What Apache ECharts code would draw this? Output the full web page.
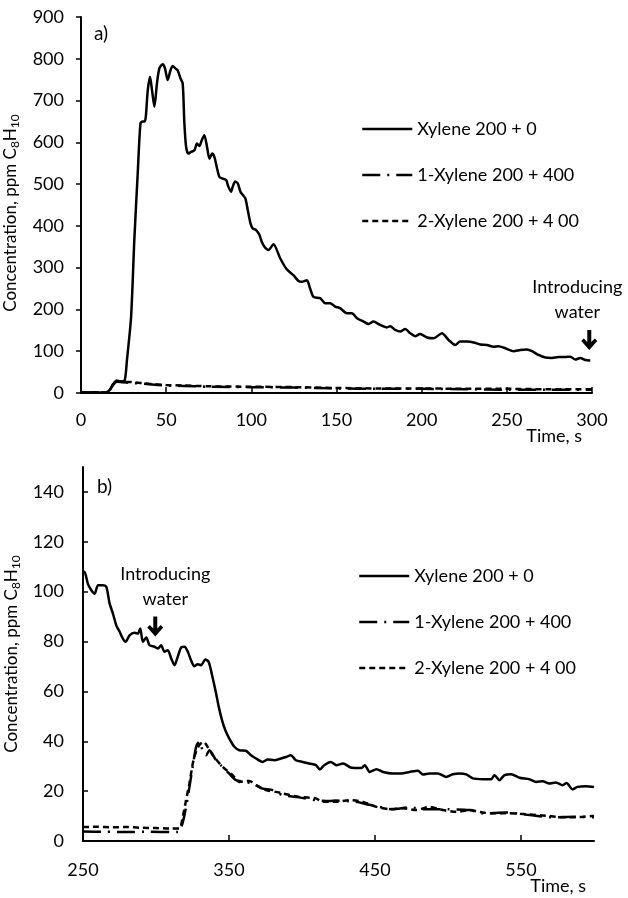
<!DOCTYPE html>
<html>
<head>
<meta charset="utf-8">
<script src="https://cdn.jsdelivr.net/npm/echarts@6.0.0/dist/echarts.min.js"></script>
<style>
  html, body { margin: 0; padding: 0; background: #fff; }
  #chart { width: 628px; height: 898px; }
</style>
</head>
<body>
<div id="chart"></div>
<script>
// names of the three runs
const seriesNames = ['Xylene 200 + 0', '1-Xylene 200 + 400', '2-Xylene 200 + 4 00']

// panel a) [time s, ppm]
const a_xylene0 = [
  [0, 1], [10, 1], [15, 2], [17, 8], [19, 22], [21, 30], [23, 28], [25.5, 29], [27, 80],
  [29.4, 182], [31.3, 366], [33.3, 526], [34.9, 645], [36.2, 650], [37.5, 650], [39.2, 725],
  [40.5, 757], [41.7, 725], [43.1, 685], [44.6, 741], [46, 777], [48, 787], [49.3, 777],
  [50.9, 749], [52.5, 772], [53.8, 783], [55.4, 777], [56.8, 772], [58.4, 753], [59.7, 741],
  [60.7, 645], [61.7, 589], [63, 573], [64.6, 577], [66.6, 581], [68.1, 597], [69.5, 591],
  [70.9, 605], [72.4, 617], [74, 589], [75.4, 561], [77, 573], [78.3, 565], [79.7, 541],
  [81.3, 517], [83.2, 513], [85.2, 510], [86.5, 494], [88.1, 482], [89.1, 494], [90.5, 506],
  [92, 502], [93.6, 482], [95, 474], [96.5, 466], [97.9, 438], [99.5, 406], [100.8, 394],
  [102.8, 390], [104.8, 378], [106.1, 362], [107.7, 350], [110, 342], [113, 356], [117, 322],
  [120.8, 296], [124.7, 282], [127.7, 268], [129.6, 266], [132.6, 270], [134.5, 250],
  [136.5, 230], [140.4, 227], [143.3, 215], [146.3, 215], [149.2, 207], [152.1, 203],
  [156.1, 191], [159, 191], [162, 179], [165.9, 171], [168.8, 165], [171.7, 171], [175.6, 163],
  [179.6, 157], [181.5, 160], [184.5, 151], [187.4, 147], [190.3, 153], [193.3, 143],
  [196.2, 136], [199.1, 141], [203.1, 133], [207, 131], [211.9, 143], [215.8, 127],
  [219.7, 115], [222.6, 123], [226.6, 123], [230.5, 121], [234.4, 116], [238.3, 115],
  [242.2, 111], [245.1, 112], [249.1, 107], [254, 100], [257.9, 103], [261.8, 104],
  [264.8, 100], [268.6, 91], [272.6, 85], [276.5, 84], [280.4, 86], [284.3, 86], [287.3, 87],
  [290.2, 80], [293.1, 84], [296.1, 79], [299, 78]
]
const a_xylene400_1 = [
  [0, 1], [15, 1], [17, 8], [19, 20], [21, 27], [24, 26], [30, 24], [40, 21], [50, 18],
  [60, 17], [75, 15], [100, 14], [125, 13], [150, 11], [175, 10], [200, 10], [225, 9],
  [250, 8], [275, 8], [300, 8]
]
const a_xylene400_2 = [
  [0, 1], [15, 1], [17, 8], [19, 22], [21, 28], [24, 27], [30, 26], [40, 22], [50, 19],
  [60, 18], [75, 16], [100, 15], [125, 14], [150, 12], [175, 11], [200, 11], [225, 10],
  [250, 10], [275, 9], [300, 9]
]

// panel b) [time s, ppm]
const b_xylene0 = [
  [250, 108], [251, 108], [253.4, 103], [255.7, 100.6], [258, 99.2], [260.3, 102.6],
  [263.7, 102.6], [266, 101.9], [268.2, 95.3], [270.5, 91.2], [272.8, 86.5], [275.1, 83.9],
  [277.3, 81.2], [279.2, 79.9], [281.9, 82.5], [285.3, 83.5], [287.6, 83.2], [289.2, 85.2],
  [291, 79.9], [293.3, 81.6], [295.6, 78.5], [299, 77.9], [301.3, 77.2], [303.5, 78.5],
  [305.8, 75.9], [308.1, 76.5], [310.4, 73.2], [312.7, 70.5], [314.9, 73.9], [317.2, 77.6],
  [319.5, 77.9], [321.8, 75.9], [324, 72.5], [326.3, 70.1], [328.6, 70.9], [330.9, 70.5],
  [333.8, 72.8], [336.1, 71.8], [338.4, 66.5], [340.7, 60.5], [343, 53.8], [345.2, 48.5],
  [347.5, 44.4], [350.2, 41.1], [353.7, 37.8], [357.1, 36.4], [361.6, 36.2], [365.1, 34.4],
  [368.5, 33.1], [373, 31.7], [376.5, 32.7], [381, 32.4], [385.6, 33.1], [389, 33.7],
  [392.4, 34.4], [395.8, 32.4], [400.4, 31.7], [404.9, 31.1], [409.5, 30.4], [412.2, 28.7],
  [415.2, 30.4], [419.7, 31.7], [423.6, 30.4], [428.1, 31.1], [433.9, 29.4], [440.7, 29.3],
  [443, 30.4], [446.4, 27.7], [451, 28.8], [455.5, 27.7], [462.3, 27.1], [468, 27.1],
  [473.7, 27.7], [479.4, 28.2], [482.8, 26.7], [487.4, 27.1], [493.1, 27.1], [498.8, 25.7],
  [503.3, 26.8], [507.9, 27.1], [512.5, 26.7], [517, 25.1], [523.8, 24.8], [529.6, 24.8],
  [531.8, 26.4], [535.2, 24.4], [538.7, 26.4], [543.2, 26.8], [548.9, 25.4], [555.7, 24.8],
  [560.3, 23.7], [564.8, 24], [569.4, 23.1], [573.9, 23.5], [578.5, 22.4], [581.2, 23.3],
  [585.3, 20.7], [588.7, 21.7], [594.5, 22], [600, 21.7]
]
const b_xylene400_1 = [
  [250, 3.8], [265, 3.7], [280, 3.6], [295, 3.7], [310, 3.6], [315, 3.6], [317, 5], [319, 9],
  [321, 15], [323, 22], [325.2, 30], [327.5, 37.8], [329.7, 39.8], [331, 38], [332.5, 35],
  [334.3, 34.4], [336.6, 36.4], [341.1, 32.4], [345, 30], [350.2, 27], [354.8, 24.4],
  [361.6, 23.7], [368, 22.5], [373, 21], [379.9, 20.4], [386.7, 18.4], [398.1, 17.5],
  [409.5, 16.4], [419, 16], [423.2, 16.2], [437, 15.7], [446, 14.5], [453, 13.7], [462, 12.7],
  [474, 13.5], [484, 12.7], [500, 12.7], [514.7, 12.4], [524, 11.1], [540, 11.4], [556, 10.4],
  [572, 9.5], [586, 9.7], [600, 9.5]
]
const b_xylene400_2 = [
  [250, 5.6], [260, 5.7], [270, 5.5], [280, 5.6], [290, 5.3], [300, 5.2], [310, 5], [316, 5],
  [318.3, 9.6], [320.6, 16.4], [322.9, 23.1], [325.2, 31.1], [327.5, 36], [329.7, 38.5],
  [332.5, 39.8], [334, 39], [338.9, 34.4], [345.7, 29.7], [352.5, 26.4], [357.1, 23.7],
  [363.9, 24.1], [368.5, 22.4], [375.3, 20.4], [382.1, 19.7], [386.7, 19.1], [398.1, 17.7],
  [409.5, 17.1], [414, 15.7], [423.2, 15.7], [432.6, 16.4], [441.7, 15.7], [451, 13.7],
  [460, 12.8], [469.1, 13.1], [478.3, 12.4], [487.4, 13.7], [496.5, 12.4], [505.6, 11.7],
  [514.7, 12.4], [523.8, 11.4], [532.9, 11.1], [542, 11.1], [551.2, 10.8], [560.3, 10.4],
  [569.4, 10], [578.5, 9.5], [587.6, 9.5], [599, 10], [600, 10]
]

// where the arrow points: [time, ppm]
const waterA = [298.4, 127]
const waterB = [299.5, 86]

const font = 'Lato, "Open Sans", sans-serif'
const black = '#000'
const lineTypes = ['solid', [18, 7, 2, 7], [6, 4]]
const arrowPath = 'path://M6 0 L10 0 L10 12 L13.5 8.5 L16 11 L8 20 L0 11 L2.5 8.5 L6 12 Z'

const txt = { color: black, fontFamily: font, fontSize: 18 }
const nameTxt = { ...txt, fontSize: 17 }

const yName = 'Concentration, ppm C{s|8}H{s|10}'

const makeSeries = (idx, data, i, water) => {
  const s = {
    name: seriesNames[i],
    type: 'line',
    xAxisIndex: idx,
    yAxisIndex: idx,
    data: data,
    symbol: 'none',
    smooth: 0.25,
    lineStyle: { color: black, width: 2.5, type: lineTypes[i] },
    itemStyle: { color: black },
    z: 3 - i
  }
  if (water) {
    s.markPoint = {
      symbol: arrowPath,
      symbolSize: [16, 20],
      itemStyle: { color: black },
      label: {
        show: true,
        position: 'top',
        distance: 5,
        formatter: 'Introducing\nwater',
        lineHeight: 25,
        offset: [idx === 0 ? -12 : 10, 0],
        ...txt
      },
      data: [{ coord: water }]
    }
  }
  return s
}

const legendData = seriesNames.map((name, i) => ({
  name: name,
  itemStyle: { opacity: 0 },
  lineStyle: { color: black, width: 2.5, type: lineTypes[i] }
}))

const makeLegend = (left, top) => ({
  orient: 'vertical', left: left, top: top, itemWidth: 50, itemHeight: 20, itemGap: 26,
  itemStyle: { opacity: 0 },
  textStyle: { ...txt, lineHeight: 20 }, data: legendData, selectedMode: false
})

const chart = echarts.init(document.getElementById('chart'))
chart.setOption({
  animation: false,
  backgroundColor: '#fff',
  textStyle: { fontFamily: font },
  title: [
    { text: 'a)', left: 94, top: 24, padding: 0, textStyle: { ...txt, fontSize: 19, fontWeight: 'normal' } },
    { text: 'b)', left: 97, top: 477, padding: 0, textStyle: { ...txt, fontSize: 19, fontWeight: 'normal' } }
  ],
  legend: [makeLegend(356, 114), makeLegend(353, 561)],
  grid: [
    { left: 81, top: 17, right: 36, height: 376, outerBoundsMode: 'none' },
    { left: 83, top: 467, right: 34, height: 374, outerBoundsMode: 'none' }
  ],
  xAxis: [
    {
      gridIndex: 0, type: 'value', min: 0, max: 300, interval: 50,
      name: 'Time, s', nameLocation: 'end', nameGap: 0, nameMoveOverlap: false,
      nameTextStyle: { ...txt, align: 'right', verticalAlign: 'top', padding: [34, 10, 0, 0] },
      axisLine: { show: true, lineStyle: { color: black, width: 2 } },
      axisTick: { show: true, inside: true, length: 6, lineStyle: { color: black, width: 1.5 } },
      axisLabel: { ...txt, margin: 18 },
      splitLine: { show: false }
    },
    {
      gridIndex: 1, type: 'value', min: 250, max: 600, interval: 100,
      name: 'Time, s', nameLocation: 'end', nameGap: 0, nameMoveOverlap: false,
      nameTextStyle: { ...txt, align: 'right', verticalAlign: 'top', padding: [36, 8, 0, 0] },
      axisLine: { show: true, lineStyle: { color: black, width: 2 } },
      axisTick: { show: true, inside: true, length: 6, lineStyle: { color: black, width: 1.5 } },
      axisLabel: { ...txt, margin: 20, showMaxLabel: false },
      splitLine: { show: false }
    }
  ],
  yAxis: [
    {
      gridIndex: 0, type: 'value', min: 0, max: 900, interval: 100,
      name: yName, nameLocation: 'middle', nameGap: 60,
      nameTextStyle: { ...nameTxt, padding: [0, 16, 0, 0], rich: { s: { ...nameTxt, fontSize: 12, padding: [9, 0, 0, 0] } } },
      axisLine: { show: true, lineStyle: { color: black, width: 2 } },
      axisTick: { show: true, length: 5, lineStyle: { color: black, width: 1.5 } },
      axisLabel: { ...txt, margin: 17 },
      splitLine: { show: false }
    },
    {
      gridIndex: 1, type: 'value', min: 0, max: 150, interval: 20,
      name: yName, nameLocation: 'middle', nameGap: 60,
      nameTextStyle: { ...nameTxt, rich: { s: { ...nameTxt, fontSize: 12, padding: [9, 0, 0, 0] } } },
      axisLine: { show: true, lineStyle: { color: black, width: 2 } },
      axisTick: { show: true, inside: true, length: 5, lineStyle: { color: black, width: 1.5 } },
      axisLabel: { ...txt, margin: 19, showMaxLabel: false },
      splitLine: { show: false }
    }
  ],
  series: [
    makeSeries(0, a_xylene0, 0, waterA),
    makeSeries(0, a_xylene400_1, 1),
    makeSeries(0, a_xylene400_2, 2),
    makeSeries(1, b_xylene0, 0, waterB),
    makeSeries(1, b_xylene400_1, 1),
    makeSeries(1, b_xylene400_2, 2)
  ]
})
</script>
</body>
</html>
